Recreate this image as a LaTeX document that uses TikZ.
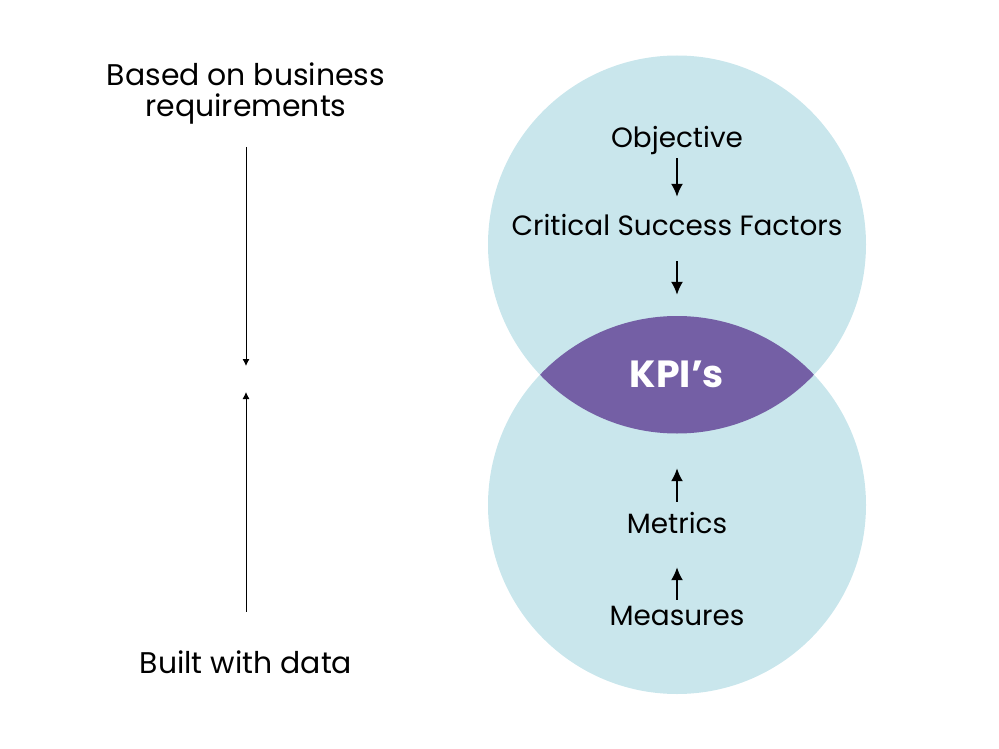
\documentclass[tikz,border=0pt]{standalone}
\usepackage{fontspec}
\setmainfont{Poppins}
\usetikzlibrary{positioning,arrows.meta}
\definecolor{circleblue}{HTML}{C9E6EC}
\definecolor{kpipurple}{HTML}{745FA5}

\begin{document}
\begin{tikzpicture}[>={Latex[length=13bp,width=12bp]},line join=bevel,x=1bp,y=-1bp,
  lbl/.style={inner sep=0pt,text height=20bp,text depth=6bp,font=\fontsize{28}{31}\selectfont},
  side/.style={inner sep=0pt,align=center,font=\fontsize{30}{31}\selectfont},
  flow/.style={->,line width=1.8bp},
  thin/.style={-{Latex[length=7bp,width=7bp]},line width=0.9bp}]
%%
\useasboundingbox (0,0) rectangle (999,749);
\fill [circleblue] (677,244.5) circle [radius=189bp];
\fill [circleblue] (677,505) circle [radius=189bp];
\begin{scope}
  \clip (677,244.5) circle [radius=189bp];
  \fill [kpipurple] (677,505) circle [radius=189bp];
\end{scope}
%
\node (obj) at (677,140) [lbl] {Objective};
\node (csf) at (677,228) [lbl] {Critical Success Factors};
\node (kpi) at (677,374.5) [inner sep=0pt,minimum height=117bp,text=white,font=\fontsize{38}{40}\selectfont\bfseries] {KPI’s};
\node (metrics) at (677,526) [lbl] {Metrics};
\node (measures) at (677,618) [lbl] {Measures};
\draw [flow,shorten <=5bp,shorten >=18bp] (obj) -- (csf);
\draw [flow,shorten <=20bp,shorten >=21bp] (csf) -- (kpi);
\draw [flow,shorten <=11bp,shorten >=35bp] (metrics) -- (kpi);
\draw [flow,shorten <=5bp,shorten >=28bp] (measures) -- (metrics);
%
\node (based) at (246,63) [side,anchor=north] {Based on business\\requirements};
\node (built) at (246,665.5) [side,text height=22bp,text depth=7bp] {Built with data};
\coordinate (mid) at (246,379);
\draw [thin,shorten <=22bp,shorten >=13bp] (based) -- (mid);
\draw [thin,shorten <=39bp,shorten >=13bp] (built) -- (mid);
%
\end{tikzpicture}
\end{document}
